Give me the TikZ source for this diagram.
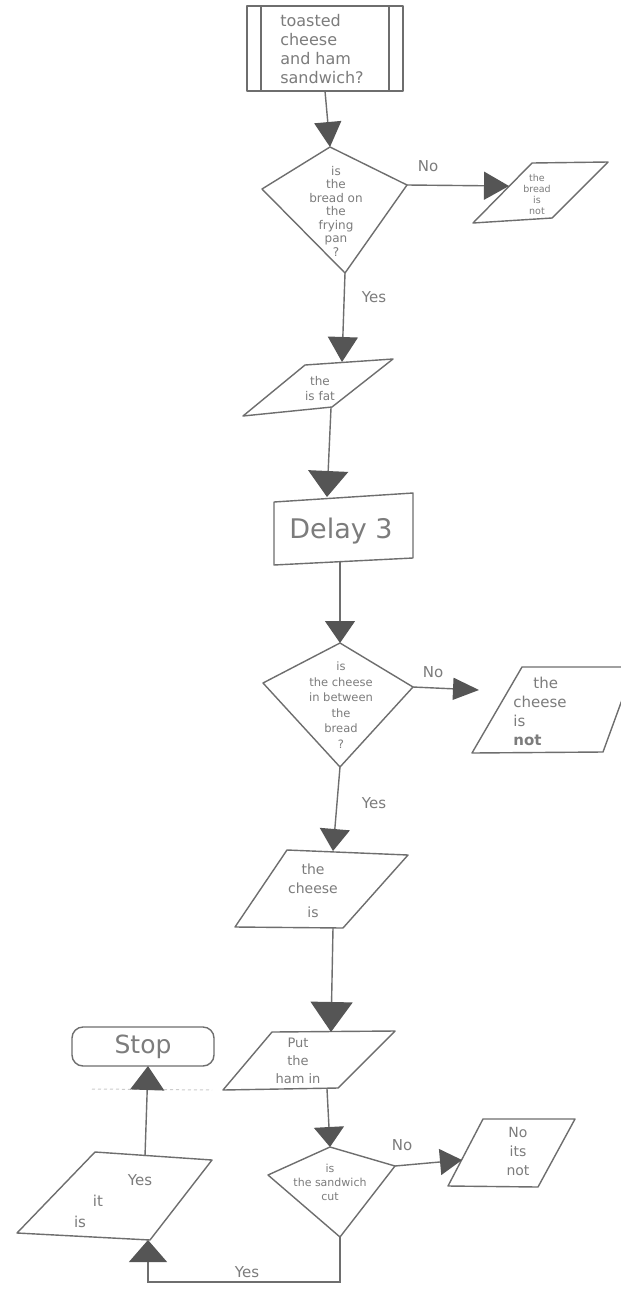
\documentclass[tikz,border=0pt]{standalone}
\usepackage{fontspec}
\setmainfont{DejaVu Sans}
\usetikzlibrary{arrows.meta}
\definecolor{pen}{HTML}{6E6E6E}
\definecolor{head}{HTML}{555555}
\definecolor{ink}{HTML}{7C7C7C}
\begin{document}
\begin{tikzpicture}[x=1pt,y=-1pt,
  shp/.style={draw=pen,line width=1.4pt,line join=round},
  conn/.style={draw=pen,line width=1.4pt},
  arr/.style 2 args={conn,-{Triangle[width=#1,length=#2,color=head]}},
  txt/.style={text=ink,inner sep=0pt,align=center},
  lbl/.style={text=ink,inner sep=0pt,font=\fontsize{15}{15}\selectfont}]
\clip (0,0) rectangle (621,1291);
\fill[white] (0,0) rectangle (621,1291);

% ---- start box
\draw[shp] (247,6) rectangle (403,91);
\draw[shp] (261,6) -- (261,91);
\draw[shp] (389,6) -- (389,91);
\node[txt,align=left,font=\fontsize{16}{19}\selectfont] (ttop) at (322,49) {toasted\\cheese\\and ham\\sandwich?};
\coordinate (Tb) at (325,91);

% ---- decision 1
\coordinate (D1t) at (330,147);
\coordinate (D1r) at (407,185);
\coordinate (D1b) at (345,273);
\coordinate (D1l) at (262,189);
\draw[shp] (D1t) -- (D1r) -- (D1b) -- (D1l) -- cycle;
\node[txt,font=\fontsize{12}{13.5}\selectfont] (td1) at (336,211) {is\\the\\bread on\\the\\frying\\pan\\?};

% ---- output: bread not
\draw[shp] (532,163) -- (608,162) -- (552,218) -- (473,223) -- cycle;
\coordinate (P1l) at (509,186);
\node[txt,font=\fontsize{9.5}{11}\selectfont] (tp1) at (537,194) {the\\bread\\is\\not};

% ---- output 2
\draw[shp] (305,365) -- (393,359) -- (332,407) -- (243,416) -- cycle;
\coordinate (P2t) at (342,362);
\coordinate (P2b) at (331,408);
\node[txt,font=\fontsize{12}{15}\selectfont] (tp2) at (320,389) {the\\is fat};

% ---- delay
\draw[shp] (274,502) -- (413,493) -- (413,558) -- (274,565) -- cycle;
\coordinate (Dt) at (327,497);
\coordinate (Db) at (340,561);
\node[txt,font=\fontsize{27}{27}\selectfont] (tdel) at (341,531) {Delay 3};

% ---- decision 2
\coordinate (D2t) at (340,643);
\coordinate (D2r) at (413,687);
\coordinate (D2b) at (340,767);
\coordinate (D2l) at (263,683);
\draw[shp] (D2t) -- (D2r) -- (D2b) -- (D2l) -- cycle;
\node[txt,font=\fontsize{11.5}{15.5}\selectfont] (td2) at (341,705) {is\\the cheese\\in between\\the\\bread\\?};
\coordinate (N2e) at (479,690);

% ---- output: cheese not
\draw[shp] (522,667) -- (634,667) -- (603,752) -- (472,753) -- cycle;
\node[txt,align=left,font=\fontsize{15}{19}\selectfont] (tp3) at (540,711) {\hspace{20pt}the\\cheese\\is\\\textbf{not}};

% ---- output 4
\draw[shp] (287,850) -- (408,855) -- (343,928) -- (235,927) -- cycle;
\coordinate (P4t) at (333,851);
\coordinate (P4b) at (333,928);
\node[txt,font=\fontsize{14}{19}\selectfont] (tp4) at (313,891) {the\\cheese\\[5pt]is};

% ---- output 5
\draw[shp] (272,1032) -- (395,1031) -- (338,1088) -- (223,1090) -- cycle;
\coordinate (P5t) at (331,1032);
\coordinate (P5b) at (327,1089);
\node[txt,font=\fontsize{13}{18}\selectfont] (tp5) at (298,1061) {Put\\the\\ham in};

% ---- decision 3
\coordinate (D3t) at (330,1147);
\coordinate (D3r) at (395,1166);
\coordinate (D3b) at (340,1237);
\coordinate (D3l) at (268,1175);
\draw[shp] (D3t) -- (D3r) -- (D3b) -- (D3l) -- cycle;
\node[txt,font=\fontsize{11}{14}\selectfont] (td3) at (330,1182) {is\\the sandwich\\cut};

% ---- output: no its not
\draw[shp] (483,1119) -- (575,1119) -- (538,1187) -- (448,1186) -- cycle;
\coordinate (P6l) at (462,1160);
\node[txt,font=\fontsize{14}{19}\selectfont] (tp6) at (518,1151) {No\\its\\not};

% ---- output: yes it is
\draw[shp] (95,1152) -- (212,1160) -- (150,1240) -- (17,1233) -- cycle;
\coordinate (P7t) at (145,1156);
\coordinate (P7b) at (148,1240);
\node[txt,font=\fontsize{15}{15}\selectfont] (t7a) at (140,1180) {Yes};
\node[txt,font=\fontsize{15}{15}\selectfont] (t7b) at (98,1201) {it};
\node[txt,font=\fontsize{15}{15}\selectfont] (t7c) at (80,1222) {is};

% ---- stop
\draw[shp,rounded corners=11pt] (72,1027) rectangle (214,1066);
\coordinate (Sb) at (148,1066);
\node[txt,font=\fontsize{25}{25}\selectfont] (tstop) at (143,1047) {Stop};

% faint erased line
\draw[gray!40,dashed,line width=1pt] (92,1089) -- (212,1090);

% ---- connectors
\draw[arr={27pt}{25pt}] (Tb) -- (D1t);
\draw[arr={28pt}{25pt}] (D1r) -- (P1l);
\draw[arr={30pt}{25pt}] (D1b) -- (P2t);
\draw[arr={40pt}{26pt}] (P2b) -- (Dt);
\draw[arr={30pt}{22pt}] (Db) -- (D2t);
\draw[arr={22pt}{26pt}] (D2r) -- (N2e);
\draw[arr={30pt}{22pt}] (D2b) -- (P4t);
\draw[arr={42pt}{30pt}] (P4b) -- (P5t);
\draw[arr={30pt}{20pt}] (P5b) -- (D3t);
\draw[arr={26pt}{22pt}] (D3r) -- (P6l);
\draw[arr={38pt}{22pt}] (D3b) -- (340,1282) -| (P7b);
\draw[arr={34pt}{24pt}] (P7t) -- (Sb);

% ---- labels
\node[lbl] (n1) at (428,166) {No};
\node[lbl] (y1) at (374,297) {Yes};
\node[lbl] (n2) at (433,672) {No};
\node[lbl] (y2) at (374,803) {Yes};
\node[lbl] (n3) at (402,1145) {No};
\node[lbl] (y3) at (247,1272) {Yes};
\end{tikzpicture}
\end{document}
